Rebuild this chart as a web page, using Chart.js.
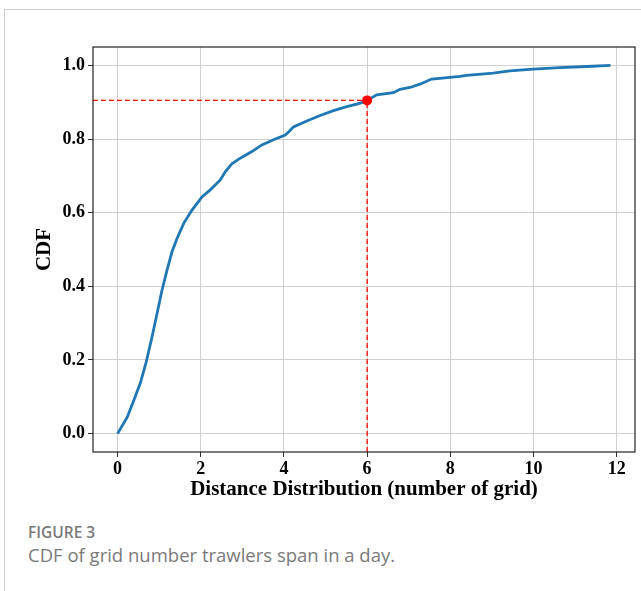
<!DOCTYPE html>
<html>
<head>
<meta charset="utf-8">
<script src="https://cdn.jsdelivr.net/npm/chart.js@4.4.1/dist/chart.umd.min.js"></script>
<style>
    html, body { margin: 0; padding: 0; background: #fff; width: 641px; height: 591px; overflow: hidden; }
    .moldura { position: absolute; left: 4px; top: 9px; width: 660px; height: 600px; border-top: 1px solid #cfcfcf; border-left: 1px solid #cfcfcf; }
    #cdfChart { position: absolute; left: 0; top: 0; }
    .fig-num { position: absolute; left: 28px; top: 521px; font-family: "Open Sans", sans-serif; font-size: 15.5px; font-weight: 600; color: #7a7a7a; }
    .fig-texto { position: absolute; left: 28px; top: 542px; font-family: "Open Sans", sans-serif; font-size: 18.5px; color: #7a7a7a; }
</style>
</head>
<body>
<div class="moldura"></div>
<canvas id="cdfChart" width="641" height="506"></canvas>
<div class="fig-num">FIGURE 3</div>
<div class="fig-texto">CDF of grid number trawlers span in a day.</div>

<script>
// Curva CDF: número de grades percorridas por dia
const distX = [0, 0.23, 0.39, 0.55, 0.69, 0.83, 0.95, 1.07, 1.19, 1.31, 1.43, 1.59, 1.79, 2.03, 2.23,
    2.47, 2.59, 2.75, 2.95, 3.23, 3.47, 3.75, 4.03, 4.13, 4.23, 4.55, 4.87, 5.19, 5.51, 5.75, 5.87, 6.0,
    6.23, 6.63, 6.79, 7.03, 7.27, 7.55, 7.75, 8.23, 8.39, 9.03, 9.43, 9.99, 10.63, 11.28, 11.85];
const cdfY = [0, 0.044, 0.09, 0.138, 0.195, 0.263, 0.326, 0.39, 0.444, 0.494, 0.53, 0.571, 0.607, 0.643, 0.662,
    0.689, 0.711, 0.733, 0.748, 0.766, 0.784, 0.798, 0.811, 0.821, 0.833, 0.849, 0.864, 0.877, 0.888, 0.895, 0.899, 0.905,
    0.92, 0.926, 0.935, 0.94, 0.949, 0.963, 0.965, 0.97, 0.973, 0.979, 0.985, 0.99, 0.994, 0.997, 1.0];

// Ponto destacado e ticks dos eixos
const marcaX = 6;
const marcaY = 0.905;
const ticksX = [0, 2, 4, 6, 8, 10, 12];
const ticksY = [0, 0.2, 0.4, 0.6, 0.8, 1.0];

// Limites dos eixos (margem de 5% como no matplotlib)
const X_MIN = -0.59, X_MAX = 12.44;
const Y_MIN = -0.05, Y_MAX = 1.05;

const fonteSerif = 'Liberation Serif';

// Moldura preta ao redor da área do gráfico
const molduraEixos = {
    id: 'molduraEixos',
    afterDatasetsDraw(chart) {
        const { ctx, chartArea: a } = chart;
        ctx.save();
        ctx.strokeStyle = '#222';
        ctx.lineWidth = 1.2;
        ctx.strokeRect(a.left, a.top, a.right - a.left, a.bottom - a.top);
        ctx.restore();
    }
};

const pontosCurva = distX.map((x, i) => ({ x: x, y: cdfY[i] }));

new Chart(document.getElementById('cdfChart'), {
    type: 'line',
    data: {
        datasets: [
            {
                data: pontosCurva,
                borderColor: '#1f77b4',
                borderWidth: 2.8,
                pointRadius: 0,
                tension: 0,
                order: 3
            },
            {
                data: [{ x: X_MIN, y: marcaY }, { x: marcaX, y: marcaY }],
                borderColor: '#ff0000',
                borderWidth: 1.3,
                borderDash: [5, 3],
                pointRadius: 0,
                order: 2
            },
            {
                data: [{ x: marcaX, y: Y_MIN }, { x: marcaX, y: marcaY }],
                borderColor: '#ff0000',
                borderWidth: 1.3,
                borderDash: [5, 3],
                pointRadius: 0,
                order: 2
            },
            {
                data: [{ x: marcaX, y: marcaY }],
                showLine: false,
                pointRadius: 5,
                backgroundColor: '#ff0000',
                borderColor: '#ff0000',
                borderWidth: 0,
                order: 1
            }
        ]
    },
    options: {
        responsive: false,
        animation: false,
        devicePixelRatio: 1,
        layout: { padding: { left: 28, right: 6, top: 47, bottom: 0 } },
        plugins: { legend: { display: false }, tooltip: { enabled: false } },
        scales: {
            x: {
                type: 'linear',
                min: X_MIN,
                max: X_MAX,
                afterBuildTicks: (s) => { s.ticks = ticksX.map(v => ({ value: v })); },
                afterFit: (s) => { s.height = 54; },
                border: { display: false },
                grid: { color: '#cfcfcf', lineWidth: 1, tickLength: 5, tickColor: '#333' },
                ticks: {
                    color: '#000',
                    padding: 2,
                    maxRotation: 0,
                    font: { family: fonteSerif, size: 18, weight: 'bold' },
                    callback: (v) => String(v)
                },
                title: {
                    display: true,
                    text: 'Distance Distribution (number of grid)',
                    color: '#000',
                    font: { family: fonteSerif, size: 21, weight: 'bold' },
                    padding: { top: 2, bottom: 4 }
                }
            },
            y: {
                type: 'linear',
                min: Y_MIN,
                max: Y_MAX,
                afterBuildTicks: (s) => { s.ticks = ticksY.map(v => ({ value: v })); },
                afterFit: (s) => { s.width = 65; },
                border: { display: false },
                grid: { color: '#cfcfcf', lineWidth: 1, tickLength: 5, tickColor: '#333' },
                ticks: {
                    color: '#000',
                    padding: 3,
                    font: { family: fonteSerif, size: 18, weight: 'bold' },
                    callback: (v) => v.toFixed(1)
                },
                title: {
                    display: true,
                    text: 'CDF',
                    color: '#000',
                    font: { family: fonteSerif, size: 21, weight: 'bold' },
                    padding: { top: 4, bottom: 4 }
                }
            }
        }
    },
    plugins: [molduraEixos]
});
</script>
</body>
</html>
